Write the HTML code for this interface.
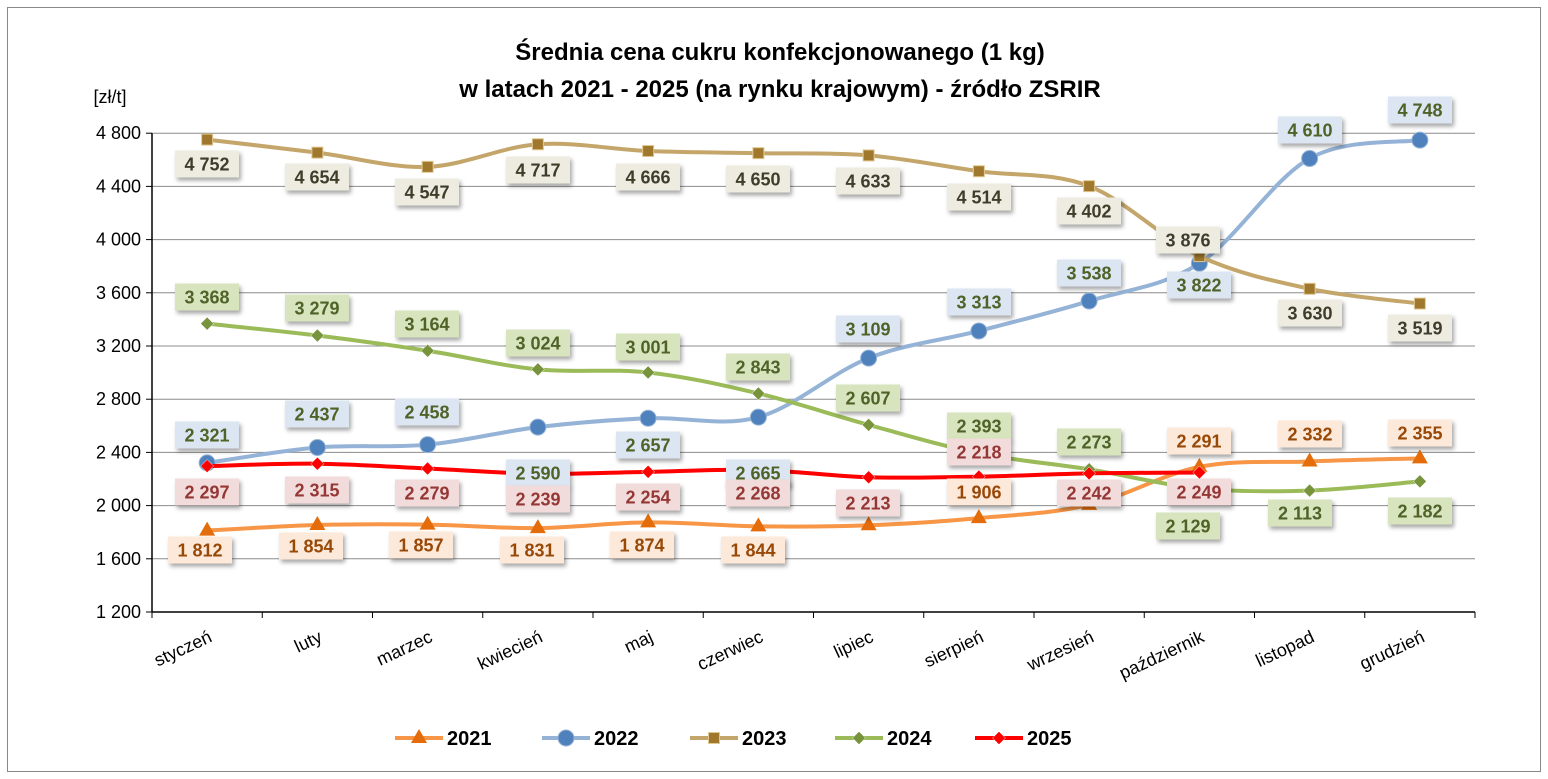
<!DOCTYPE html>
<html><head><meta charset="utf-8">
<style>
html,body{margin:0;padding:0;background:#fff;}
svg{display:block;font-family:"Liberation Sans",Arial,sans-serif;}
</style></head>
<body>
<svg id="c" width="1548" height="779" xmlns="http://www.w3.org/2000/svg">
<defs>
<filter id="sh" x="-20%" y="-20%" width="150%" height="160%">
<feDropShadow dx="2" dy="3" stdDeviation="2" flood-color="#000" flood-opacity="0.35"/>
</filter>
</defs>
<rect x="7.5" y="7.5" width="1533" height="764" fill="#fff" stroke="#888" stroke-width="1"/>
<text x="780" y="60" text-anchor="middle" font-size="24" font-weight="bold">Średnia cena cukru konfekcjonowanego (1 kg)</text>
<text x="780" y="97" text-anchor="middle" font-size="24" font-weight="bold">w latach 2021 - 2025 (na rynku krajowym) - źródło ZSRIR</text>
<text x="110" y="103" text-anchor="middle" font-size="18">[zł/t]</text>
<g id="grid"></g>
<g id="series"></g>
<g id="labels"></g>
<g id="legend"></g>
</svg>
<script>
const NS="http://www.w3.org/2000/svg";
const svg=document.getElementById('c');
function el(t,a,p){const e=document.createElementNS(NS,t);for(const k in a)e.setAttribute(k,a[k]);(p||svg).appendChild(e);return e;}
const L=152,R=1475,step=(R-L)/12;
const X=i=>L+step/2+i*step;
const Y=v=>612-(v-1200)*53.2/400;
const g=document.getElementById('grid');
for(let v=1200;v<=4800;v+=400){
  const y=Y(v);
  if(v>1200)el('line',{x1:L,x2:R,y1:y,y2:y,stroke:'#8c8c8c','stroke-width':1},g);
  el('line',{x1:L-6,x2:L,y1:y,y2:y,stroke:'#000','stroke-width':1},g);
  const t=el('text',{x:141,y:y+6,'text-anchor':'end','font-size':18},g);
  t.textContent=(v>=1000?Math.floor(v/1000)+' '+String(v%1000).padStart(3,'0'):v);
}
el('line',{x1:L,x2:L,y1:Y(4800),y2:612,stroke:'#000','stroke-width':1.5},g);
el('line',{x1:L,x2:R,y1:612,y2:612,stroke:'#000','stroke-width':1.5},g);
for(let i=0;i<=12;i++){const x=L+i*step;el('line',{x1:x,x2:x,y1:612,y2:618,stroke:'#000'},g);}
const months=['styczeń','luty','marzec','kwiecień','maj','czerwiec','lipiec','sierpień','wrzesień','październik','listopad','grudzień'];
months.forEach((m,i)=>{const x=X(i)+6,y=641;const t=el('text',{x:x,y:y,'text-anchor':'end','font-size':18,transform:`rotate(-25 ${x} ${y})`},g);t.textContent=m;});

const S=[
 {n:'2021',c:'#f79646',w:4,m:'tri',mc:'#e46c0a',d:[1812,1854,1857,1831,1874,1844,1852,1906,2005,2291,2332,2355],
  lab:[[200,550],[311,546],[421,545],[532,550],[642,545],[753,550],null,[979,492],null,[1199,441],[1310,434],[1420,433]],lb:'#fde9d9',lt:'#984807'},
 {n:'2022',c:'#95b3d7',w:4,m:'circ',mc:'#4f81bd',d:[2321,2437,2458,2590,2657,2665,3109,3313,3538,3822,4610,4748],
  lab:[[207,435],[317,414],[427,412],[538,473],[648,445],[758,473],[868,329],[979,302],[1089,273],[1199,285],[1310,130],[1420,110]],lb:'#dce6f2',lt:'#4f6228'},
 {n:'2023',c:'#c4a66b',w:4,m:'sq',mc:'#a0782d',d:[4752,4654,4547,4717,4666,4650,4633,4514,4402,3876,3630,3519],
  lab:[[207,164],[317,177],[427,192],[538,170],[648,177],[758,179],[868,181],[979,197],[1089,211],[1188,240],[1310,313],[1420,328]],lb:'#eeece1',lt:'#403c2a'},
 {n:'2024',c:'#9bbb59',w:4,m:'dia',mc:'#77933c',d:[3368,3279,3164,3024,3001,2843,2607,2393,2273,2129,2113,2182],
  lab:[[207,297],[317,308],[427,324],[538,343],[648,347],[758,367],[868,398],[979,426],[1089,442],[1188,526],[1300,513],[1420,511]],lb:'#d7e4bd',lt:'#4f6228'},
 {n:'2025',c:'#ff0000',w:4,m:'dia',mc:'#ff0000',d:[2297,2315,2279,2239,2254,2268,2213,2218,2242,2249],
  lab:[[207,492],[317,490],[427,493],[538,499],[648,497],[758,493],[868,503],[979,452],[1089,493],[1199,492]],lb:'#f2dcdb',lt:'#953735'}
];
const sg=document.getElementById('series'),lg=document.getElementById('labels');
function path(p){let d=`M${p[0][0]},${p[0][1]}`;for(let i=0;i<p.length-1;i++){const p0=p[i-1]||p[i],p1=p[i],p2=p[i+1],p3=p[i+2]||p2;const t=1/6;
 d+=` C${p1[0]+(p2[0]-p0[0])*t},${p1[1]+(p2[1]-p0[1])*t} ${p2[0]-(p3[0]-p1[0])*t},${p2[1]-(p3[1]-p1[1])*t} ${p2[0]},${p2[1]}`;}return d;}
function marker(type,x,y,c,p,s){s=s||1;
 if(type=='tri')el('polygon',{points:`${x},${y-9*s} ${x-8*s},${y+5*s} ${x+8*s},${y+5*s}`,fill:c},p);
 else if(type=='circ')el('circle',{cx:x,cy:y,r:8*s,fill:c,stroke:'#95b3d7','stroke-width':1},p);
 else if(type=='sq')el('rect',{x:x-5.5*s,y:y-5.5*s,width:11*s,height:11*s,fill:c,stroke:'#e0c890','stroke-width':1},p);
 else el('polygon',{points:`${x},${y-6.5*s} ${x+6.5*s},${y} ${x},${y+6.5*s} ${x-6.5*s},${y}`,fill:c,stroke:'#fff','stroke-width':0.5},p);}
S.forEach(s=>{const pts=s.d.map((v,i)=>[X(i),Y(v)]);
 el('path',{d:path(pts),fill:'none',stroke:s.c,'stroke-width':s.w,'stroke-linecap':'round'},sg);
 pts.forEach(p=>marker(s.m,p[0],p[1],s.mc,sg));
 s.lab.forEach((l,i)=>{if(!l)return;const w=64,h=27;
  el('rect',{x:l[0]-w/2,y:l[1]-h/2,width:w,height:h,fill:s.lb,filter:'url(#sh)'},lg);
  const t=el('text',{x:l[0],y:l[1]+6.5,'text-anchor':'middle','font-size':18,'font-weight':'bold',fill:s.lt},lg);
  const v=s.d[i];t.textContent=Math.floor(v/1000)+' '+String(v%1000).padStart(3,'0');});
});
const leg=document.getElementById('legend');
const lx=[395,542,690,835,975];
S.forEach((s,i)=>{const x=lx[i],y=738;
 el('line',{x1:x,x2:x+48,y1:y,y2:y,stroke:s.c,'stroke-width':4},leg);
 marker(s.m,x+24,y,s.mc,leg);
 const t=el('text',{x:x+52,y:y+7,'font-size':20,'font-weight':'bold'},leg);t.textContent=s.n;});
</script>
</body></html>
